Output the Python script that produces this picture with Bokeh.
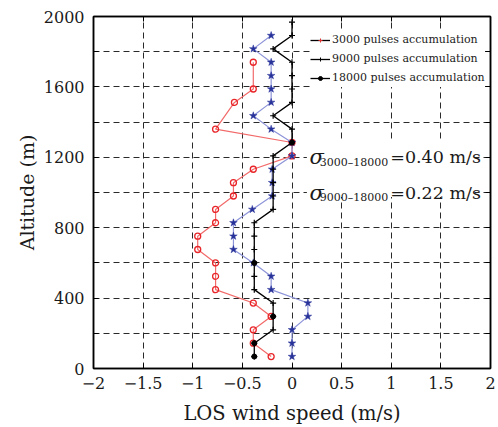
import numpy as np
from bokeh.plotting import figure
from bokeh.models import (Range1d, LinearAxis, FixedTicker, Legend, LegendItem,
                          Label, BoxAnnotation)
from bokeh.embed import file_html
from bokeh.resources import INLINE

# ---------------- data ----------------
altitude = [68, 144, 220, 296, 372, 448, 524, 600, 676, 752, 828, 904, 980,
            1056, 1132, 1208, 1284, 1360, 1436, 1512, 1588, 1664, 1740, 1816,
            1892, 1968]

wind_18000 = [-0.38, -0.38, -0.19, -0.19, -0.19, -0.38, -0.38, -0.38, -0.38,
              -0.38, -0.38, -0.19, -0.19, -0.19, -0.19, -0.19, 0.0, 0.0,
              -0.19, 0.0, 0.0, 0.0, 0.0, -0.19, 0.0, 0.0]
dot_index_18000 = [0, 1, 3, 7, 16]

altitude_9000 = [68, 144, 220, 296, 372, 448, 524, 600, 676, 752, 828, 904,
                 980, 1056, 1132, 1208, 1284, 1360, 1436, 1512, 1588, 1664,
                 1740, 1816, 1892]
wind_9000 = [0.0, 0.0, 0.0, 0.16, 0.16, -0.21, -0.21, -0.39, -0.59, -0.59,
             -0.59, -0.40, -0.20, -0.20, -0.20, 0.0, 0.0, -0.21, -0.39, -0.21,
             -0.21, -0.21, -0.21, -0.39, -0.21]

altitude_3000 = [68, 144, 220, 296, 372, 448, 524, 600, 676, 752, 828, 904,
                 980, 1056, 1132, 1208, 1284, 1360, 1512, 1588, 1740]
wind_3000 = [-0.21, -0.39, -0.39, -0.21, -0.39, -0.77, -0.77, -0.77, -0.95,
             -0.95, -0.77, -0.77, -0.59, -0.59, -0.39, 0.0, 0.0, -0.77, -0.58,
             -0.39, -0.39]

x_ticks = [-2, -1.5, -1, -0.5, 0, 0.5, 1, 1.5, 2]
x_tick_labels = ["\u22122", "\u22121.5", "\u22121", "\u22120.5", "0", "0.5", "1", "1.5", "2"]
y_ticks = [0, 400, 800, 1200, 1600, 2000]
y_minor_ticks = [200, 600, 1000, 1400, 1800]
y_grid = [0, 200, 400, 600, 800, 1000, 1200, 1400, 1600, 1800, 2000]

legend_labels = ["3000 pulses accumulation", "9000 pulses accumulation",
                 "18000 pulses accumulation"]
sigma_subscripts = ["3000\u201318000", "9000\u201318000"]
sigma_values = ["=0.40 m/s", "=0.22 m/s"]

FONT = "DejaVu Serif"
INK = "#1a1a1a"

# ---------------- figure ----------------
p = figure(width=498, height=427, x_range=Range1d(-2, 2), y_range=Range1d(0, 2000),
           output_backend="svg", toolbar_location=None,
           min_border_left=93, min_border_right=8, min_border_top=16,
           min_border_bottom=58, background_fill_color="white",
           border_fill_color="white")
p.outline_line_color = "black"
p.outline_line_width = 1.5

xt = FixedTicker(ticks=x_ticks)
yt = FixedTicker(ticks=y_ticks, minor_ticks=y_minor_ticks)

p.xaxis.ticker = xt
p.xaxis.major_label_overrides = {float(t): s for t, s in zip(x_ticks, x_tick_labels)}
p.yaxis.ticker = yt

for ax in list(p.xaxis) + list(p.yaxis):
    ax.major_tick_in = 5
    ax.major_tick_out = 0
    ax.minor_tick_in = 5
    ax.minor_tick_out = 0
    ax.minor_tick_line_color = "black"
    ax.axis_line_color = "black"
    ax.axis_line_width = 1.5
    ax.major_tick_line_color = "black"
    ax.major_tick_line_width = 1
    ax.major_label_text_font = FONT
    ax.major_label_text_font_size = "16px"
    ax.major_label_text_color = INK
    ax.axis_label_text_font = FONT
    ax.axis_label_text_font_style = "normal"
    ax.axis_label_text_color = INK

p.xaxis.axis_label = "LOS wind speed (m/s)"
p.yaxis.axis_label = "Altitude (m)"
p.xaxis.axis_label_text_font_size = "19.5px"
p.yaxis.axis_label_text_font_size = "19px"
p.xaxis.major_label_standoff = 8
p.xaxis.axis_label_standoff = 10
p.yaxis.major_label_standoff = 9
p.yaxis.axis_label_standoff = 3

# mirrored axes: ticks only (minor ticks, so no labels are produced)
top_ax = LinearAxis(ticker=FixedTicker(ticks=[], minor_ticks=x_ticks),
                    minor_tick_in=5, minor_tick_out=0, major_tick_out=0,
                    minor_tick_line_color="black", axis_line_width=1.5)
right_ax = LinearAxis(ticker=FixedTicker(ticks=[], minor_ticks=y_grid),
                      minor_tick_in=5, minor_tick_out=0, major_tick_out=0,
                      minor_tick_line_color="black", axis_line_width=1.5)
p.add_layout(top_ax, "above")
p.add_layout(right_ax, "right")

p.xgrid.ticker = FixedTicker(ticks=x_ticks)
p.ygrid.ticker = FixedTicker(ticks=y_grid)
for g in (p.xgrid, p.ygrid):
    g.grid_line_color = "#2a2a2a"
    g.grid_line_dash = "6 4"
    g.grid_line_width = 1

# ---------------- series ----------------
red_line = "#f26a6a"
red_mark = "#e8262a"
blue_line = "#8d94d8"
blue_mark = "#28339a"

p.line(wind_3000, altitude_3000, line_color=red_line, line_width=1.2)
p.scatter(wind_3000, altitude_3000, marker="circle", size=6, fill_color=None,
          line_color=red_mark, line_width=1.3)

p.line(wind_9000, altitude_9000, line_color=blue_line, line_width=1.2)
p.scatter(wind_9000, altitude_9000, marker="star", size=8, fill_color=blue_mark,
          line_color=blue_mark, line_width=0.5)

p.line(wind_18000, altitude, line_color="black", line_width=1.3)
p.scatter(wind_18000, altitude, marker="cross", size=6, line_color="black",
          line_width=1.2)
p.scatter([wind_18000[i] for i in dot_index_18000],
          [altitude[i] for i in dot_index_18000],
          marker="circle", size=5, fill_color="black", line_color="black")

# ---------------- sigma annotations ----------------
p.add_layout(BoxAnnotation(left=0.15, right=1.84, bottom=975, top=1300,
                           fill_color="white", fill_alpha=1.0, line_color=None))
for base, sub, val in zip([1200, 1000], sigma_subscripts, sigma_values):
    p.add_layout(Label(x=0.176, y=base, text="\u03c3", text_font=FONT,
                       text_font_style="italic", text_font_size="21px",
                       text_color=INK, text_baseline="alphabetic"))
    p.add_layout(Label(x=0.28, y=base - 28, text=sub, text_font=FONT,
                       text_font_size="11px", text_color=INK,
                       text_baseline="alphabetic"))
    p.add_layout(Label(x=0.99, y=base, text=val, text_font=FONT,
                       text_font_size="17.5px", text_color=INK,
                       text_baseline="alphabetic"))

# ---------------- legend ----------------
nan = [np.nan]
l1 = p.line(nan, nan, line_color="black", line_width=1.3)
m1 = p.scatter(nan, nan, marker="cross", size=3, line_color="#e03030", line_width=1)
l2 = p.line(nan, nan, line_color="black", line_width=1.3)
m2 = p.scatter(nan, nan, marker="cross", size=3, line_color="black", line_width=1)
l3 = p.line(nan, nan, line_color="black", line_width=1.3)
m3 = p.scatter(nan, nan, marker="circle", size=4, fill_color="black", line_color="black")

legend = Legend(items=[LegendItem(label=legend_labels[0], renderers=[l1, m1]),
                       LegendItem(label=legend_labels[1], renderers=[l2, m2]),
                       LegendItem(label=legend_labels[2], renderers=[l3, m3])],
                location=(217, 281), background_fill_color="white",
                background_fill_alpha=1.0, border_line_color=None,
                label_text_font=FONT, label_text_font_size="11px",
                label_text_color=INK, glyph_width=20, glyph_height=10,
                label_height=19, spacing=0, padding=3, margin=0,
                label_standoff=2)
p.add_layout(legend)

open("out.html", "w").write(file_html(p, INLINE))
